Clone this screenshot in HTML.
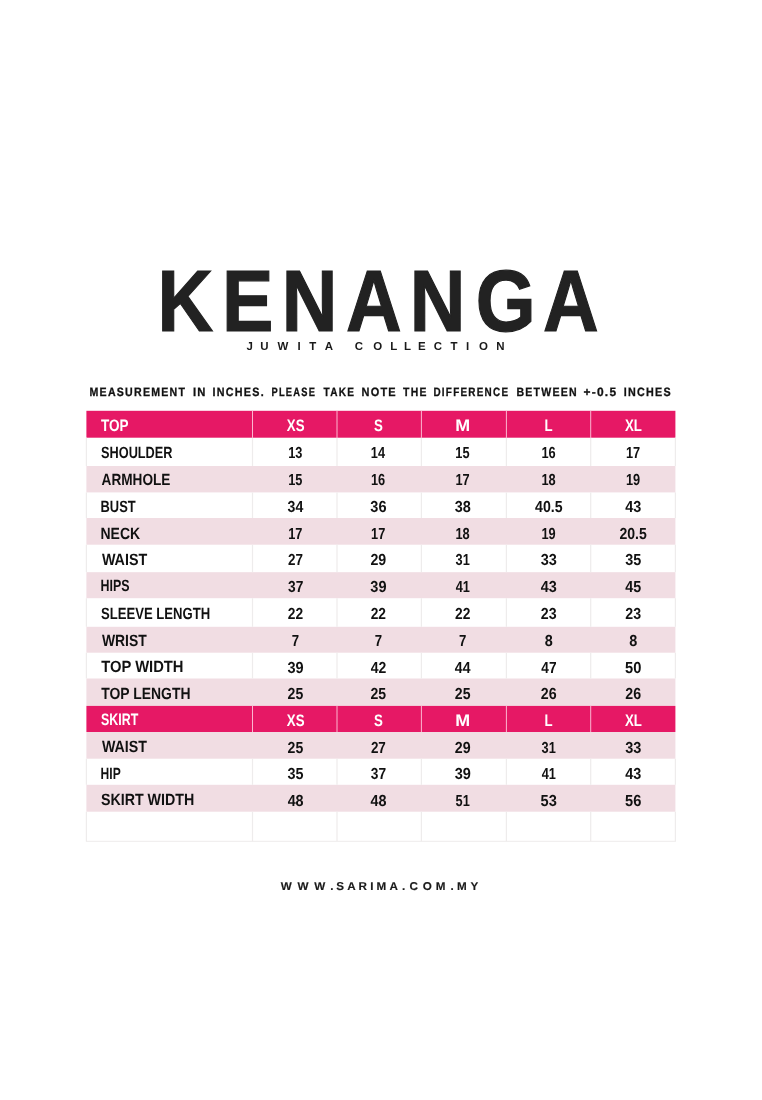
<!DOCTYPE html>
<html><head><meta charset="utf-8"><title>KENANGA size chart</title>
<style>html,body{margin:0;padding:0;background:#fff}svg{display:block}text{font-family:"Liberation Sans",sans-serif;text-rendering:geometricPrecision}</style>
</head><body>
<svg width="762" height="1100" viewBox="0 0 762 1100">
<rect width="762" height="1100" fill="#ffffff"/>
<rect x="86.40" y="410.80" width="589.00" height="26.90" fill="#e61865"/>
<rect x="86.40" y="466.00" width="589.00" height="26.40" fill="#f1dde3"/>
<rect x="86.40" y="518.00" width="589.00" height="26.70" fill="#f1dde3"/>
<rect x="86.40" y="572.20" width="589.00" height="26.00" fill="#f1dde3"/>
<rect x="86.40" y="626.80" width="589.00" height="25.90" fill="#f1dde3"/>
<rect x="86.40" y="678.50" width="589.00" height="27.40" fill="#f1dde3"/>
<rect x="86.40" y="705.90" width="589.00" height="26.10" fill="#e61865"/>
<rect x="86.40" y="732.00" width="589.00" height="26.70" fill="#f1dde3"/>
<rect x="86.40" y="784.80" width="589.00" height="26.90" fill="#f1dde3"/>
<rect x="252.00" y="410.80" width="1" height="26.90" fill="#fbb5d0"/>
<rect x="336.50" y="410.80" width="1" height="26.90" fill="#fbb5d0"/>
<rect x="420.90" y="410.80" width="1" height="26.90" fill="#fbb5d0"/>
<rect x="505.90" y="410.80" width="1" height="26.90" fill="#fbb5d0"/>
<rect x="590.20" y="410.80" width="1" height="26.90" fill="#fbb5d0"/>
<rect x="85.80" y="437.70" width="1.2" height="28.30" fill="#eeecec"/>
<rect x="251.90" y="437.70" width="1.2" height="28.30" fill="#eeecec"/>
<rect x="336.40" y="437.70" width="1.2" height="28.30" fill="#eeecec"/>
<rect x="420.80" y="437.70" width="1.2" height="28.30" fill="#eeecec"/>
<rect x="505.80" y="437.70" width="1.2" height="28.30" fill="#eeecec"/>
<rect x="590.10" y="437.70" width="1.2" height="28.30" fill="#eeecec"/>
<rect x="674.80" y="437.70" width="1.2" height="28.30" fill="#eeecec"/>
<rect x="85.80" y="492.40" width="1.2" height="25.60" fill="#eeecec"/>
<rect x="251.90" y="492.40" width="1.2" height="25.60" fill="#eeecec"/>
<rect x="336.40" y="492.40" width="1.2" height="25.60" fill="#eeecec"/>
<rect x="420.80" y="492.40" width="1.2" height="25.60" fill="#eeecec"/>
<rect x="505.80" y="492.40" width="1.2" height="25.60" fill="#eeecec"/>
<rect x="590.10" y="492.40" width="1.2" height="25.60" fill="#eeecec"/>
<rect x="674.80" y="492.40" width="1.2" height="25.60" fill="#eeecec"/>
<rect x="85.80" y="544.70" width="1.2" height="27.50" fill="#eeecec"/>
<rect x="251.90" y="544.70" width="1.2" height="27.50" fill="#eeecec"/>
<rect x="336.40" y="544.70" width="1.2" height="27.50" fill="#eeecec"/>
<rect x="420.80" y="544.70" width="1.2" height="27.50" fill="#eeecec"/>
<rect x="505.80" y="544.70" width="1.2" height="27.50" fill="#eeecec"/>
<rect x="590.10" y="544.70" width="1.2" height="27.50" fill="#eeecec"/>
<rect x="674.80" y="544.70" width="1.2" height="27.50" fill="#eeecec"/>
<rect x="85.80" y="598.20" width="1.2" height="28.60" fill="#eeecec"/>
<rect x="251.90" y="598.20" width="1.2" height="28.60" fill="#eeecec"/>
<rect x="336.40" y="598.20" width="1.2" height="28.60" fill="#eeecec"/>
<rect x="420.80" y="598.20" width="1.2" height="28.60" fill="#eeecec"/>
<rect x="505.80" y="598.20" width="1.2" height="28.60" fill="#eeecec"/>
<rect x="590.10" y="598.20" width="1.2" height="28.60" fill="#eeecec"/>
<rect x="674.80" y="598.20" width="1.2" height="28.60" fill="#eeecec"/>
<rect x="85.80" y="652.70" width="1.2" height="25.80" fill="#eeecec"/>
<rect x="251.90" y="652.70" width="1.2" height="25.80" fill="#eeecec"/>
<rect x="336.40" y="652.70" width="1.2" height="25.80" fill="#eeecec"/>
<rect x="420.80" y="652.70" width="1.2" height="25.80" fill="#eeecec"/>
<rect x="505.80" y="652.70" width="1.2" height="25.80" fill="#eeecec"/>
<rect x="590.10" y="652.70" width="1.2" height="25.80" fill="#eeecec"/>
<rect x="674.80" y="652.70" width="1.2" height="25.80" fill="#eeecec"/>
<rect x="252.00" y="705.90" width="1" height="26.10" fill="#fbb5d0"/>
<rect x="336.50" y="705.90" width="1" height="26.10" fill="#fbb5d0"/>
<rect x="420.90" y="705.90" width="1" height="26.10" fill="#fbb5d0"/>
<rect x="505.90" y="705.90" width="1" height="26.10" fill="#fbb5d0"/>
<rect x="590.20" y="705.90" width="1" height="26.10" fill="#fbb5d0"/>
<rect x="85.80" y="758.70" width="1.2" height="26.10" fill="#eeecec"/>
<rect x="251.90" y="758.70" width="1.2" height="26.10" fill="#eeecec"/>
<rect x="336.40" y="758.70" width="1.2" height="26.10" fill="#eeecec"/>
<rect x="420.80" y="758.70" width="1.2" height="26.10" fill="#eeecec"/>
<rect x="505.80" y="758.70" width="1.2" height="26.10" fill="#eeecec"/>
<rect x="590.10" y="758.70" width="1.2" height="26.10" fill="#eeecec"/>
<rect x="674.80" y="758.70" width="1.2" height="26.10" fill="#eeecec"/>
<rect x="85.80" y="811.70" width="1.2" height="29.60" fill="#eeecec"/>
<rect x="251.90" y="811.70" width="1.2" height="29.60" fill="#eeecec"/>
<rect x="336.40" y="811.70" width="1.2" height="29.60" fill="#eeecec"/>
<rect x="420.80" y="811.70" width="1.2" height="29.60" fill="#eeecec"/>
<rect x="505.80" y="811.70" width="1.2" height="29.60" fill="#eeecec"/>
<rect x="590.10" y="811.70" width="1.2" height="29.60" fill="#eeecec"/>
<rect x="674.80" y="811.70" width="1.2" height="29.60" fill="#eeecec"/>
<rect x="85.90" y="840.80" width="590.00" height="1" fill="#eeecec"/>
<text transform="translate(0,330.60) scale(0.8850,1)" x="178.09 250.83 318.30 391.00 463.10 537.45 613.54" font-size="87.07" font-weight="bold" fill="#222222" stroke="#222222" stroke-width="1.2">KENANGA</text>
<text transform="translate(0,350.40) scale(1.0000,1)" x="246.51 260.16 277.48 297.40 309.29 324.66 330.40 354.68 373.24 390.19 403.99 417.91 433.68 450.59 466.00 478.94 496.36" font-size="11.48" font-weight="bold" fill="#1a1a1a">JUWITA COLLECTION</text>
<text transform="translate(89.49,395.70) scale(0.8796,1)" font-size="12.06" font-weight="bold" fill="#111" stroke="#111" stroke-width="0.3" letter-spacing="1.421">MEASUREMENT</text>
<text transform="translate(192.95,395.70) scale(0.9335,1)" font-size="12.06" font-weight="bold" fill="#111" stroke="#111" stroke-width="0.3" letter-spacing="1.339">IN</text>
<text transform="translate(212.58,395.70) scale(0.8922,1)" font-size="12.06" font-weight="bold" fill="#111" stroke="#111" stroke-width="0.3" letter-spacing="1.401">INCHES.</text>
<text transform="translate(271.48,395.70) scale(0.7714,1)" font-size="12.06" font-weight="bold" fill="#111" stroke="#111" stroke-width="0.3" letter-spacing="1.620">PLEASE</text>
<text transform="translate(323.59,395.70) scale(0.8361,1)" font-size="12.06" font-weight="bold" fill="#111" stroke="#111" stroke-width="0.3" letter-spacing="1.495">TAKE</text>
<text transform="translate(361.47,395.70) scale(0.9105,1)" font-size="12.06" font-weight="bold" fill="#111" stroke="#111" stroke-width="0.3" letter-spacing="1.373">NOTE</text>
<text transform="translate(403.08,395.70) scale(0.8630,1)" font-size="12.06" font-weight="bold" fill="#111" stroke="#111" stroke-width="0.3" letter-spacing="1.448">THE</text>
<text transform="translate(433.44,395.70) scale(0.8225,1)" font-size="12.06" font-weight="bold" fill="#111" stroke="#111" stroke-width="0.3" letter-spacing="1.520">DIFFERENCE</text>
<text transform="translate(516.39,395.70) scale(0.8773,1)" font-size="12.06" font-weight="bold" fill="#111" stroke="#111" stroke-width="0.3" letter-spacing="1.425">BETWEEN</text>
<text transform="translate(583.50,395.70) scale(0.9929,1)" font-size="12.06" font-weight="bold" fill="#111" stroke="#111" stroke-width="0.3" letter-spacing="1.259">+-0.5</text>
<text transform="translate(623.68,395.70) scale(0.8927,1)" font-size="12.06" font-weight="bold" fill="#111" stroke="#111" stroke-width="0.3" letter-spacing="1.400">INCHES</text>
<text transform="translate(0,890.30) scale(1.0300,1)" x="272.61 288.92 305.14 320.76 326.37 337.18 348.17 359.40 365.57 378.24 390.18 397.67 410.35 423.14 437.27 443.72 456.70" font-size="11.34" font-weight="bold" fill="#1a1a1a" stroke="#1a1a1a" stroke-width="0.15">WWW.SARIMA.COM.MY</text>
<text transform="translate(101.05,430.70) scale(0.8166,1)" font-size="16.57" font-weight="bold" fill="#ffffff">TOP</text>
<text transform="translate(101.03,457.60) scale(0.7830,1)" font-size="16.28" font-weight="bold" fill="#111">SHOULDER</text>
<text transform="translate(101.56,484.60) scale(0.8369,1)" font-size="16.28" font-weight="bold" fill="#111">ARMHOLE</text>
<text transform="translate(100.53,511.70) scale(0.7944,1)" font-size="16.28" font-weight="bold" fill="#111">BUST</text>
<text transform="translate(100.46,538.60) scale(0.8599,1)" font-size="16.28" font-weight="bold" fill="#111">NECK</text>
<text transform="translate(101.89,564.70) scale(0.8803,1)" font-size="16.28" font-weight="bold" fill="#111">WAIST</text>
<text transform="translate(100.57,591.40) scale(0.7637,1)" font-size="16.28" font-weight="bold" fill="#111">HIPS</text>
<text transform="translate(101.02,618.50) scale(0.8053,1)" font-size="16.28" font-weight="bold" fill="#111">SLEEVE LENGTH</text>
<text transform="translate(101.89,645.50) scale(0.8554,1)" font-size="16.28" font-weight="bold" fill="#111">WRIST</text>
<text transform="translate(101.23,672.40) scale(0.9072,1)" font-size="16.28" font-weight="bold" fill="#111">TOP WIDTH</text>
<text transform="translate(101.24,699.10) scale(0.8559,1)" font-size="16.28" font-weight="bold" fill="#111">TOP LENGTH</text>
<text transform="translate(101.04,725.40) scale(0.7481,1)" font-size="16.57" font-weight="bold" fill="#ffffff">SKIRT</text>
<text transform="translate(101.89,752.30) scale(0.8726,1)" font-size="16.28" font-weight="bold" fill="#111">WAIST</text>
<text transform="translate(100.59,778.90) scale(0.7414,1)" font-size="16.28" font-weight="bold" fill="#111">HIP</text>
<text transform="translate(100.89,805.40) scale(0.8760,1)" font-size="16.28" font-weight="bold" fill="#111">SKIRT WIDTH</text>
<text transform="translate(286.86,431.00) scale(0.8000,1)" font-size="16.57" font-weight="bold" fill="#ffffff">XS</text>
<text transform="translate(373.95,431.00) scale(0.8000,1)" font-size="16.57" font-weight="bold" fill="#ffffff">S</text>
<text transform="translate(455.25,431.00) scale(1.0789,1)" font-size="16.57" font-weight="bold" fill="#ffffff">M</text>
<text transform="translate(544.41,431.00) scale(0.8000,1)" font-size="16.57" font-weight="bold" fill="#ffffff">L</text>
<text transform="translate(624.88,431.00) scale(0.8000,1)" font-size="16.57" font-weight="bold" fill="#ffffff">XL</text>
<text transform="translate(288.21,457.90) scale(0.8000,1)" font-size="15.99" font-weight="bold" fill="#111">13</text>
<text transform="translate(370.82,457.90) scale(0.8000,1)" font-size="15.99" font-weight="bold" fill="#111">14</text>
<text transform="translate(455.36,457.90) scale(0.8000,1)" font-size="15.99" font-weight="bold" fill="#111">15</text>
<text transform="translate(541.41,457.90) scale(0.8000,1)" font-size="15.99" font-weight="bold" fill="#111">16</text>
<text transform="translate(625.96,457.90) scale(0.8000,1)" font-size="15.99" font-weight="bold" fill="#111">17</text>
<text transform="translate(288.16,484.90) scale(0.8000,1)" font-size="15.99" font-weight="bold" fill="#111">15</text>
<text transform="translate(371.01,484.90) scale(0.8000,1)" font-size="15.99" font-weight="bold" fill="#111">16</text>
<text transform="translate(455.46,484.90) scale(0.8000,1)" font-size="15.99" font-weight="bold" fill="#111">17</text>
<text transform="translate(541.38,484.90) scale(0.8000,1)" font-size="15.99" font-weight="bold" fill="#111">18</text>
<text transform="translate(625.92,484.90) scale(0.8000,1)" font-size="15.99" font-weight="bold" fill="#111">19</text>
<text transform="translate(287.53,512.00) scale(0.8828,1)" font-size="15.99" font-weight="bold" fill="#111">34</text>
<text transform="translate(370.32,512.00) scale(0.9086,1)" font-size="15.99" font-weight="bold" fill="#111">36</text>
<text transform="translate(454.72,512.00) scale(0.9040,1)" font-size="15.99" font-weight="bold" fill="#111">38</text>
<text transform="translate(534.99,512.00) scale(0.8872,1)" font-size="15.99" font-weight="bold" fill="#111">40.5</text>
<text transform="translate(625.33,512.00) scale(0.9019,1)" font-size="15.99" font-weight="bold" fill="#111">43</text>
<text transform="translate(288.26,538.90) scale(0.8000,1)" font-size="15.99" font-weight="bold" fill="#111">17</text>
<text transform="translate(371.06,538.90) scale(0.8000,1)" font-size="15.99" font-weight="bold" fill="#111">17</text>
<text transform="translate(455.38,538.90) scale(0.8000,1)" font-size="15.99" font-weight="bold" fill="#111">18</text>
<text transform="translate(541.42,538.90) scale(0.8000,1)" font-size="15.99" font-weight="bold" fill="#111">19</text>
<text transform="translate(619.46,538.90) scale(0.8798,1)" font-size="15.99" font-weight="bold" fill="#111">20.5</text>
<text transform="translate(288.08,565.00) scale(0.8410,1)" font-size="15.99" font-weight="bold" fill="#111">27</text>
<text transform="translate(370.41,565.00) scale(0.8896,1)" font-size="15.99" font-weight="bold" fill="#111">29</text>
<text transform="translate(455.62,565.00) scale(0.8000,1)" font-size="15.99" font-weight="bold" fill="#111">31</text>
<text transform="translate(540.72,565.00) scale(0.9086,1)" font-size="15.99" font-weight="bold" fill="#111">33</text>
<text transform="translate(625.22,565.00) scale(0.9015,1)" font-size="15.99" font-weight="bold" fill="#111">35</text>
<text transform="translate(287.98,591.70) scale(0.8615,1)" font-size="15.99" font-weight="bold" fill="#111">37</text>
<text transform="translate(370.32,591.70) scale(0.9094,1)" font-size="15.99" font-weight="bold" fill="#111">39</text>
<text transform="translate(455.67,591.70) scale(0.8000,1)" font-size="15.99" font-weight="bold" fill="#111">41</text>
<text transform="translate(540.83,591.70) scale(0.9019,1)" font-size="15.99" font-weight="bold" fill="#111">43</text>
<text transform="translate(625.33,591.70) scale(0.8949,1)" font-size="15.99" font-weight="bold" fill="#111">45</text>
<text transform="translate(287.87,618.80) scale(0.8620,1)" font-size="15.99" font-weight="bold" fill="#111">22</text>
<text transform="translate(370.67,618.80) scale(0.8620,1)" font-size="15.99" font-weight="bold" fill="#111">22</text>
<text transform="translate(455.07,618.80) scale(0.8620,1)" font-size="15.99" font-weight="bold" fill="#111">22</text>
<text transform="translate(540.81,618.80) scale(0.8888,1)" font-size="15.99" font-weight="bold" fill="#111">23</text>
<text transform="translate(625.31,618.80) scale(0.8888,1)" font-size="15.99" font-weight="bold" fill="#111">23</text>
<text transform="translate(291.83,645.80) scale(0.8264,1)" font-size="15.99" font-weight="bold" fill="#111">7</text>
<text transform="translate(374.63,645.80) scale(0.8264,1)" font-size="15.99" font-weight="bold" fill="#111">7</text>
<text transform="translate(459.03,645.80) scale(0.8264,1)" font-size="15.99" font-weight="bold" fill="#111">7</text>
<text transform="translate(544.69,645.80) scale(0.8996,1)" font-size="15.99" font-weight="bold" fill="#111">8</text>
<text transform="translate(629.19,645.80) scale(0.8996,1)" font-size="15.99" font-weight="bold" fill="#111">8</text>
<text transform="translate(287.52,672.70) scale(0.9094,1)" font-size="15.99" font-weight="bold" fill="#111">39</text>
<text transform="translate(370.69,672.70) scale(0.8756,1)" font-size="15.99" font-weight="bold" fill="#111">42</text>
<text transform="translate(454.84,672.70) scale(0.8765,1)" font-size="15.99" font-weight="bold" fill="#111">44</text>
<text transform="translate(541.29,672.70) scale(0.8551,1)" font-size="15.99" font-weight="bold" fill="#111">47</text>
<text transform="translate(625.10,672.70) scale(0.9197,1)" font-size="15.99" font-weight="bold" fill="#111">50</text>
<text transform="translate(287.61,699.40) scale(0.8817,1)" font-size="15.99" font-weight="bold" fill="#111">25</text>
<text transform="translate(370.41,699.40) scale(0.8817,1)" font-size="15.99" font-weight="bold" fill="#111">25</text>
<text transform="translate(454.81,699.40) scale(0.8817,1)" font-size="15.99" font-weight="bold" fill="#111">25</text>
<text transform="translate(540.81,699.40) scale(0.8888,1)" font-size="15.99" font-weight="bold" fill="#111">26</text>
<text transform="translate(625.31,699.40) scale(0.8888,1)" font-size="15.99" font-weight="bold" fill="#111">26</text>
<text transform="translate(286.86,725.70) scale(0.8000,1)" font-size="16.57" font-weight="bold" fill="#ffffff">XS</text>
<text transform="translate(373.95,725.70) scale(0.8000,1)" font-size="16.57" font-weight="bold" fill="#ffffff">S</text>
<text transform="translate(455.25,725.70) scale(1.0789,1)" font-size="16.57" font-weight="bold" fill="#ffffff">M</text>
<text transform="translate(544.41,725.70) scale(0.8000,1)" font-size="16.57" font-weight="bold" fill="#ffffff">L</text>
<text transform="translate(624.88,725.70) scale(0.8000,1)" font-size="16.57" font-weight="bold" fill="#ffffff">XL</text>
<text transform="translate(287.61,752.60) scale(0.8817,1)" font-size="15.99" font-weight="bold" fill="#111">25</text>
<text transform="translate(370.88,752.60) scale(0.8410,1)" font-size="15.99" font-weight="bold" fill="#111">27</text>
<text transform="translate(454.81,752.60) scale(0.8896,1)" font-size="15.99" font-weight="bold" fill="#111">29</text>
<text transform="translate(541.62,752.60) scale(0.8000,1)" font-size="15.99" font-weight="bold" fill="#111">31</text>
<text transform="translate(625.22,752.60) scale(0.9086,1)" font-size="15.99" font-weight="bold" fill="#111">33</text>
<text transform="translate(287.52,779.20) scale(0.9015,1)" font-size="15.99" font-weight="bold" fill="#111">35</text>
<text transform="translate(370.78,779.20) scale(0.8615,1)" font-size="15.99" font-weight="bold" fill="#111">37</text>
<text transform="translate(454.72,779.20) scale(0.9094,1)" font-size="15.99" font-weight="bold" fill="#111">39</text>
<text transform="translate(541.67,779.20) scale(0.8000,1)" font-size="15.99" font-weight="bold" fill="#111">41</text>
<text transform="translate(625.33,779.20) scale(0.9019,1)" font-size="15.99" font-weight="bold" fill="#111">43</text>
<text transform="translate(287.63,805.70) scale(0.8973,1)" font-size="15.99" font-weight="bold" fill="#111">48</text>
<text transform="translate(370.43,805.70) scale(0.8973,1)" font-size="15.99" font-weight="bold" fill="#111">48</text>
<text transform="translate(455.57,805.70) scale(0.8000,1)" font-size="15.99" font-weight="bold" fill="#111">51</text>
<text transform="translate(540.60,805.70) scale(0.9154,1)" font-size="15.99" font-weight="bold" fill="#111">53</text>
<text transform="translate(625.10,805.70) scale(0.9154,1)" font-size="15.99" font-weight="bold" fill="#111">56</text>
</svg>
</body></html>
